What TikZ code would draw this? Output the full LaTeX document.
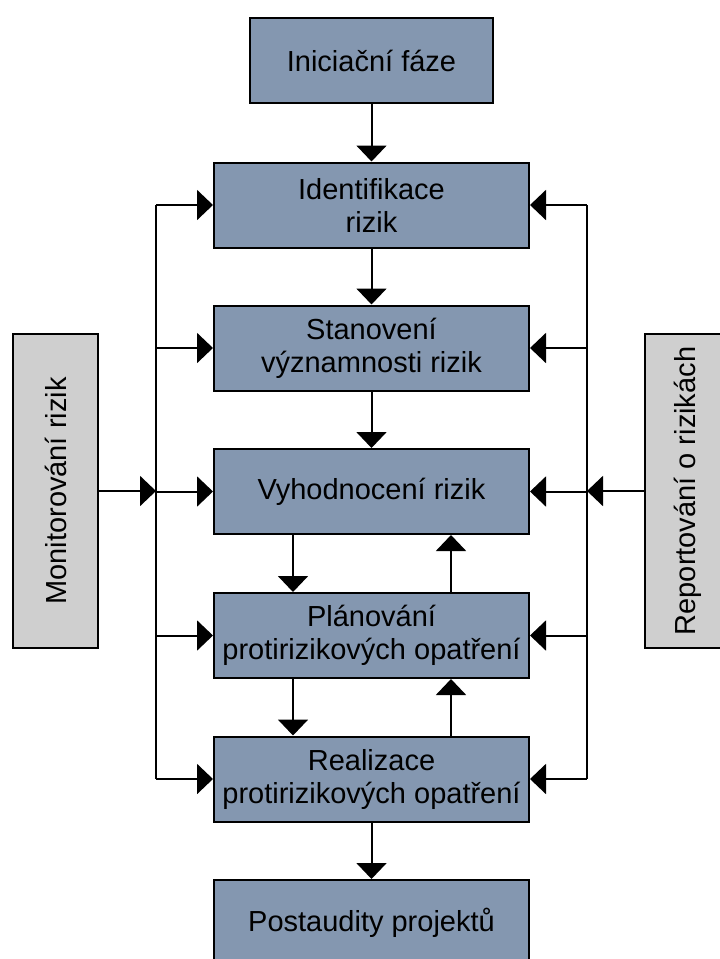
\documentclass[tikz,border=0pt]{standalone}
\usepackage{fontspec}
\setmainfont{Liberation Sans}
\usetikzlibrary{arrows.meta}
\definecolor{boxblue}{HTML}{8497B0}
\definecolor{boxgray}{HTML}{CFCFCF}
\begin{document}
\begin{tikzpicture}[x=1pt,y=-1pt,
  mainbox/.style={draw=black, line width=2pt, fill=boxblue, minimum width=315pt,
    minimum height=85pt, inner sep=0pt, align=center, font=\fontsize{29}{33}\selectfont},
  sidebox/.style={draw=black, line width=2pt, fill=boxgray, minimum width=314pt,
    minimum height=85pt, inner sep=0pt, rotate=90, font=\fontsize{29}{33}\selectfont},
  conn/.style={line width=2pt},
  arr/.style={conn, -{Triangle[width=30pt,length=16pt]}}]
\useasboundingbox (0,0) rectangle (720,959);
\clip (0,0) rectangle (720,959);

\node[mainbox, minimum width=243pt] (ini) at (371.5,60.5) {Iniciační fáze};
\node[mainbox] (ident) at (371.5,205) {Identifikace\\rizik};
\node[mainbox] (stan) at (371.5,348) {Stanovení\\významnosti rizik};
\node[mainbox] (vyh) at (371.5,491.5) {Vyhodnocení rizik};
\node[mainbox] (plan) at (371.5,635.5) {Plánování\\protirizikových opatření};
\node[mainbox] (real) at (371.5,779) {Realizace\\protirizikových opatření};
\node[mainbox] (post) at (371.5,922.5) {Postaudity projektů};

\node[sidebox] (mon) at (55.5,491) {Monitorování rizik};
\node[sidebox] (rep) at (687.5,491) {Reportování o rizikách};

\coordinate (lbus) at (156,0);
\coordinate (rbus) at (587,0);
\coordinate (dl) at (293,0);
\coordinate (ul) at (451,0);

% main flow
\draw[arr] (ini.south) -- (ident.north);
\draw[arr] (ident.south) -- (stan.north);
\draw[arr] (stan.south) -- (vyh.north);
\draw[arr] (vyh.south -| dl) -- (plan.north -| dl);
\draw[arr] (plan.north -| ul) -- (vyh.south -| ul);
\draw[arr] (plan.south -| dl) -- (real.north -| dl);
\draw[arr] (real.north -| ul) -- (plan.south -| ul);
\draw[arr] (real.south) -- (post.north);

% left bus
\draw[conn] (ident.west -| lbus) -- (real.west -| lbus);
\foreach \n in {ident,stan,vyh,plan,real}
  \draw[arr] (\n.west -| lbus) -- (\n.west);
\draw[arr] (mon.south) -- (mon.south -| lbus);

% right bus
\draw[conn] (ident.east -| rbus) -- (real.east -| rbus);
\foreach \n in {ident,stan,vyh,plan,real}
  \draw[arr] (\n.east -| rbus) -- (\n.east);
\draw[arr] (rep.north) -- (rep.north -| rbus);
\end{tikzpicture}
\end{document}
